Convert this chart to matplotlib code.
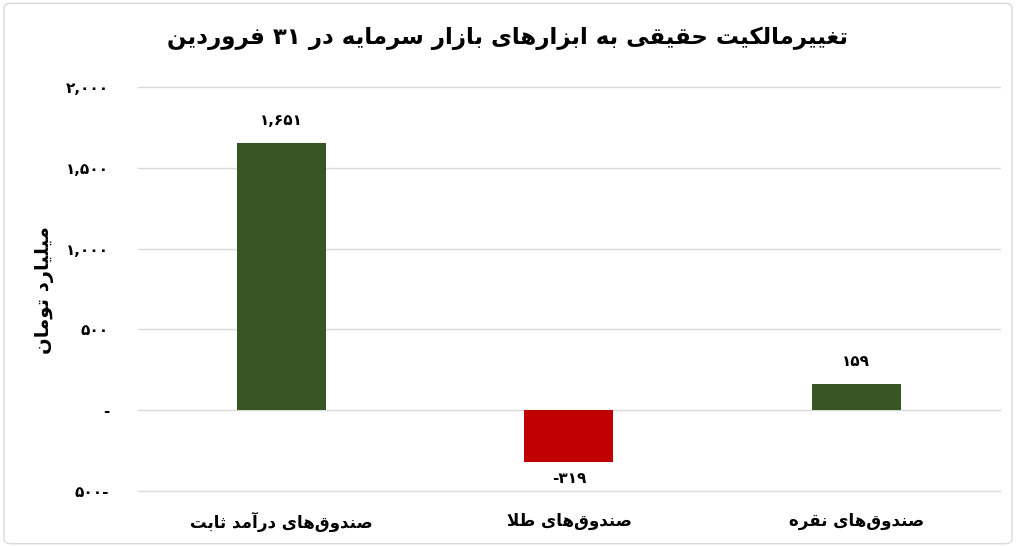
import re
import matplotlib
matplotlib.use("Agg")
import matplotlib.pyplot as plt
from matplotlib.patches import FancyBboxPatch

# ---------------- data ----------------
title_text = "تغییرمالکیت حقیقی به ابزارهای بازار سرمایه در ۳۱ فروردین"
ylabel_text = "میلیارد تومان"
categories = ["صندوق\u200cهای درآمد ثابت", "صندوق\u200cهای طلا", "صندوق\u200cهای نقره"]
values = [1651, -319, 159]
tick_values = [-500, 0, 500, 1000, 1500, 2000]
tick_labels = ["۵۰۰-", "-", "۵۰۰", "۱,۰۰۰", "۱,۵۰۰", "۲,۰۰۰"]

GREEN = "#375623"
RED = "#C00000"

# ---------------- minimal Arabic/Persian shaping ----------------
# forms: (isolated, final, initial, medial)
FORMS = {
    'ا': ('\uFE8D', '\uFE8E', None, None),
    'آ': ('\uFE81', '\uFE82', None, None),
    'د': ('\uFEA9', '\uFEAA', None, None),
    'ر': ('\uFEAD', '\uFEAE', None, None),
    'ز': ('\uFEAF', '\uFEB0', None, None),
    'و': ('\uFEED', '\uFEEE', None, None),
    'ب': ('\uFE8F', '\uFE90', '\uFE91', '\uFE92'),
    'ت': ('\uFE95', '\uFE96', '\uFE97', '\uFE98'),
    'ث': ('\uFE99', '\uFE9A', '\uFE9B', '\uFE9C'),
    'ح': ('\uFEA1', '\uFEA2', '\uFEA3', '\uFEA4'),
    'س': ('\uFEB1', '\uFEB2', '\uFEB3', '\uFEB4'),
    'ص': ('\uFEB9', '\uFEBA', '\uFEBB', '\uFEBC'),
    'ط': ('\uFEC1', '\uFEC2', '\uFEC3', '\uFEC4'),
    'غ': ('\uFECD', '\uFECE', '\uFECF', '\uFED0'),
    'ف': ('\uFED1', '\uFED2', '\uFED3', '\uFED4'),
    'ق': ('\uFED5', '\uFED6', '\uFED7', '\uFED8'),
    'ل': ('\uFEDD', '\uFEDE', '\uFEDF', '\uFEE0'),
    'م': ('\uFEE1', '\uFEE2', '\uFEE3', '\uFEE4'),
    'ن': ('\uFEE5', '\uFEE6', '\uFEE7', '\uFEE8'),
    'ه': ('\uFEE9', '\uFEEA', '\uFEEB', '\uFEEC'),
    'ی': ('\uFBFC', '\uFBFD', '\uFBFE', '\uFBFF'),
    'ک': ('\uFB8E', '\uFB8F', '\uFB90', '\uFB91'),
}
LAMALEF = {'ا': ('\uFEFB', '\uFEFC'), 'آ': ('\uFEF5', '\uFEF6')}


def dual(c):
    return c in FORMS and FORMS[c][2] is not None


def shape(text):
    out = []
    i = 0
    n = len(text)
    while i < n:
        c = text[i]
        if c not in FORMS:
            if c != '\u200c':
                out.append(c)
            i += 1
            continue
        prev = text[i - 1] if i > 0 else ''
        join_prev = dual(prev)
        nxt = text[i + 1] if i + 1 < n else ''
        if c == 'ل' and nxt in LAMALEF:
            out.append(LAMALEF[nxt][1 if join_prev else 0])
            i += 2
            continue
        join_next = dual(c) and nxt in FORMS
        iso, fin, ini, med = FORMS[c]
        if join_prev and join_next:
            out.append(med)
        elif join_prev:
            out.append(fin)
        elif join_next:
            out.append(ini)
        else:
            out.append(iso)
        i += 1
    return ''.join(out)


def rtl(text):
    vis = shape(text)[::-1]
    return re.sub(r'[۰-۹0-9,]+', lambda m: m.group(0)[::-1], vis)


def fa_num(v):
    s = f"{abs(v):,}".translate(str.maketrans("0123456789", "۰۱۲۳۴۵۶۷۸۹"))
    return ("-" + s) if v < 0 else s


# ---------------- figure ----------------
plt.rcParams['font.family'] = ['DejaVu Sans']
fig = plt.figure(figsize=(10.16, 5.47), dpi=100)
fig.patch.set_facecolor("white")
border = FancyBboxPatch((0.004, 0.006), 0.992, 0.988, boxstyle="round,pad=0,rounding_size=0.008",
                        transform=fig.transFigure, facecolor="none", edgecolor="#d9d9d9",
                        linewidth=1.0, zorder=0)
fig.patches.append(border)

ax = fig.add_axes([0.136, 0.1024, 0.848, 0.7386])
x = list(range(len(categories)))
colors = [GREEN if v >= 0 else RED for v in values]
bars = ax.bar(x, values, width=0.31, color=colors, zorder=3)

ax.set_xlim(-0.5, len(categories) - 0.5)
ax.set_ylim(-500, 2000)
ax.set_yticks(tick_values)
ax.set_yticklabels(tick_labels, fontsize=11, fontweight='bold')
ax.tick_params(axis='y', length=0, pad=21)
ax.set_xticks(x)
ax.set_xticklabels([rtl(c) for c in categories], fontsize=12, fontweight='bold')
ax.tick_params(axis='x', length=0, pad=15)
ax.grid(axis='y', color='#d9d9d9', linewidth=1.0, zorder=0)
for gl in ax.get_ygridlines():
    gl.set_clip_on(False)
for s in ax.spines.values():
    s.set_visible(False)

for xi, v in zip(x, values):
    ax.annotate(fa_num(v), (xi, v), xytext=(0, 11 if v >= 0 else -7), textcoords='offset points',
                ha='center', va='bottom' if v >= 0 else 'top', fontsize=11, fontweight='bold')

fig.text(0.5, 0.93, rtl(title_text), ha='center', va='center', fontsize=16.5, fontweight='bold')
fig.text(0.044, 0.47, rtl(ylabel_text), ha='center', va='center', rotation=90,
         fontsize=14, fontweight='bold')

fig.savefig("out.png", dpi=100)
